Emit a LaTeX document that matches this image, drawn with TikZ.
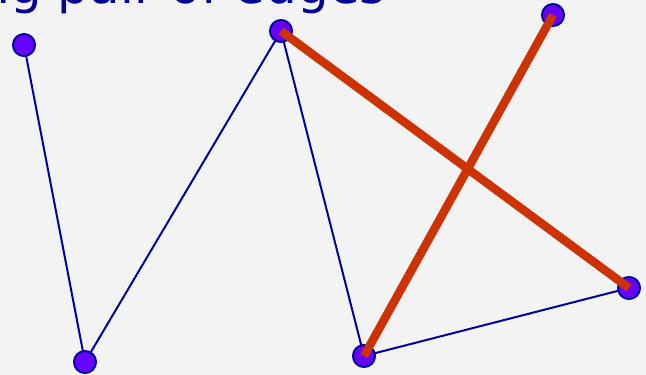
\documentclass[tikz,border=0pt]{standalone}
\usepackage{fontspec}
\newfontfamily\titlefont{DejaVu Sans}
\definecolor{bgc}{HTML}{F3F3F3}
\definecolor{edgeblue}{HTML}{00009F}
\definecolor{nodefill}{HTML}{6600FF}
\definecolor{nodeline}{HTML}{000099}
\definecolor{hired}{HTML}{CC3300}
\tikzset{
  vert/.style={circle, fill=nodefill, draw=nodeline, line width=2pt, minimum size=22pt, inner sep=0pt},
  plainedge/.style={draw=edgeblue, line width=2pt},
  crossedge/.style={draw=hired, line width=8.5pt},
}
\begin{document}
\begin{tikzpicture}[x=1pt,y=-1pt]
\useasboundingbox (0,0) rectangle (646,375);
\clip (0,0) rectangle (646,375);
\fill[bgc] (0,0) rectangle (646,375);
\node[anchor=base east, inner sep=0pt, text=nodeline, font=\titlefont\fontsize{50}{56}\selectfont] (title) at (386,3) {Crossing pair of edges};
\coordinate (pa) at (24,45);
\coordinate (pb) at (85,362);
\coordinate (pc) at (281,31);
\coordinate (pd) at (553,15);
\coordinate (pe) at (364,356);
\coordinate (pf) at (629,288);
\draw[plainedge] (pa) -- (pb) -- (pc) -- (pe) -- (pf) -- (pc);
\node[vert] (a) at (pa) {};
\node[vert] (b) at (pb) {};
\node[vert] (c) at (pc) {};
\node[vert] (d) at (pd) {};
\node[vert] (e) at (pe) {};
\node[vert] (f) at (pf) {};
\draw[crossedge] (c.center) -- (f.center);
\draw[crossedge] (d.center) -- (e.center);
\end{tikzpicture}
\end{document}
